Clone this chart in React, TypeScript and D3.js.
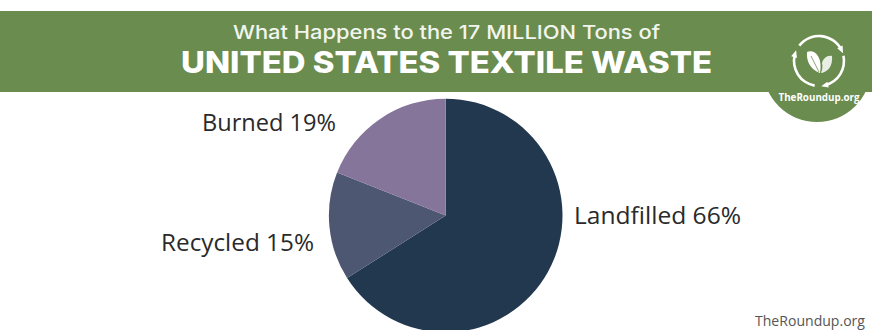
import React from "react";
import * as d3 from "d3";

const categories = ["Landfilled", "Recycled", "Burned"];
const shares = [66, 15, 19];
const sliceColors = ["#22384f", "#4d5772", "#85759a"];

const W = 872;
const H = 330;
const GREEN = "#6a8c4e";
const LABEL_FONT = "'Open Sans', Lato, sans-serif";
const TITLE_FONT = "Inter, 'Open Sans', sans-serif";

// Label anchor for each slice, in order of the categories above.
const labelPlacement = [
  { x: 574, y: 224, len: 167 },
  { x: 161, y: 251, len: 153 },
  { x: 202, y: 131, len: 134 },
];

// Circular-arrow segments of the logo ring, in degrees clockwise from north.
const ringArcs = [
  [-52, 62],
  [78, 165],
  [190, 285],
];

function Logo({ cx, cy }: { cx: number; cy: number }) {
  const r = 25;
  const ring = d3.arc();
  return (
    <g transform={`translate(${cx},${cy})`}>
      {ringArcs.map(([a, b], i) => {
        const d = ring({
          innerRadius: r - 1.3,
          outerRadius: r + 1.3,
          startAngle: (a * Math.PI) / 180,
          endAngle: (b * Math.PI) / 180,
        }) as string;
        const tip = ((b + 2) * Math.PI) / 180;
        const tx = Math.sin(tip) * r;
        const ty = -Math.cos(tip) * r;
        return (
          <g key={i}>
            <path d={d} fill="#fff" />
            <path
              d="M-3.5,-3 L3.5,0 L-3.5,3 Z"
              fill="#fff"
              transform={`translate(${tx},${ty}) rotate(${b + 2})`}
            />
          </g>
        );
      })}
      {/* leaves */}
      <path d="M-12,-9 C-5,-12 4,-5 1,12 C-7,9 -13,2 -12,-9 Z" fill="#fff" />
      <path d="M13,-5 C8,-6 4,-2 3,2 C4,6 3,9 2,12 C9,11 14,5 13,-5 Z" fill="#fff" opacity={0.85} />
      <path d="M-8,-5 C-5,0 -3,6 0,11" stroke={GREEN} strokeWidth={0.8} fill="none" />
    </g>
  );
}

export default function App() {
  const cx = 445.7;
  const cy = 215.5;
  const radius = 116.8;
  const pie = d3.pie<number>().sort(null).value((d) => d);
  const arc = d3.arc<d3.PieArcDatum<number>>().innerRadius(0).outerRadius(radius);
  const slices = pie(shares);

  return (
    <svg
      width={W}
      height={H}
      viewBox={`0 0 ${W} ${H}`}
      style={{ position: "fixed", left: 0, top: 0, background: "#fff" }}
    >
      <rect x={0} y={11} width={W} height={81} fill={GREEN} />
      <circle cx={817} cy={68} r={54} fill={GREEN} />
      <text
        x={446.5}
        y={39}
        textAnchor="middle"
        fill="#f2f5ee"
        fontFamily={TITLE_FONT}
        fontSize={19}
        fontWeight={500}
        textLength={427}
        lengthAdjust="spacingAndGlyphs"
      >
        What Happens to the 17 MILLION Tons of
      </text>
      <text
        x={446.5}
        y={73}
        textAnchor="middle"
        fill="#fff"
        fontFamily={TITLE_FONT}
        fontSize={30}
        fontWeight={800}
        textLength={531}
        lengthAdjust="spacingAndGlyphs"
      >
        UNITED STATES TEXTILE WASTE
      </text>
      <Logo cx={819} cy={61} />
      <text
        x={819}
        y={100.5}
        textAnchor="middle"
        fill="#fff"
        fontFamily={LABEL_FONT}
        fontSize={10}
        fontWeight={700}
        textLength={81}
        lengthAdjust="spacingAndGlyphs"
      >
        TheRoundup.org
      </text>

      <g transform={`translate(${cx},${cy})`}>
        {slices.map((s, i) => (
          <path key={categories[i]} d={arc(s) as string} fill={sliceColors[i]} />
        ))}
      </g>

      {categories.map((c, i) => (
        <text
          key={c}
          x={labelPlacement[i].x}
          y={labelPlacement[i].y}
          fill="#2a2a2a"
          fontFamily={LABEL_FONT}
          fontSize={24}
          textLength={labelPlacement[i].len}
          lengthAdjust="spacingAndGlyphs"
        >
          {`${c} ${shares[i]}%`}
        </text>
      ))}

      <text
        x={865}
        y={326}
        textAnchor="end"
        fill="#555"
        fontFamily={LABEL_FONT}
        fontSize={14}
        textLength={110}
        lengthAdjust="spacingAndGlyphs"
      >
        TheRoundup.org
      </text>
    </svg>
  );
}
